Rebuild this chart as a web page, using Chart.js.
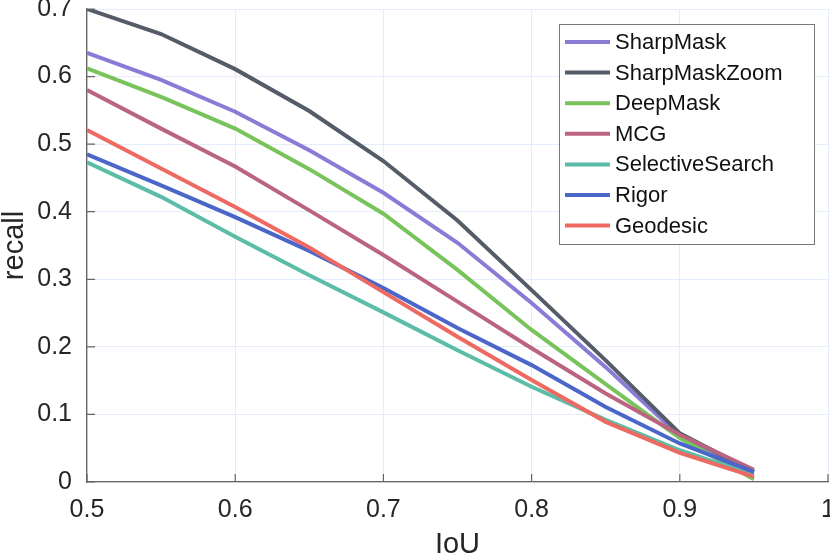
<!DOCTYPE html>
<html>
<head>
<meta charset="utf-8">
<script src="https://cdn.jsdelivr.net/npm/chart.js@4.4.1/dist/chart.umd.min.js"></script>
<style>
  html, body { margin: 0; padding: 0; background: #fff; }
  #wrap { width: 830px; height: 557px; position: relative; }
</style>
</head>
<body>
<div id="wrap"><canvas id="recallChart"></canvas></div>
<script>
// IoU thresholds and recall per method
const iou = [0.5, 0.55, 0.6, 0.65, 0.7, 0.75, 0.8, 0.85, 0.9, 0.95];
const sharpMask       = [0.635, 0.595, 0.548, 0.491, 0.428, 0.354, 0.265, 0.170, 0.068, 0.015];
const sharpMaskZoom   = [0.700, 0.663, 0.611, 0.549, 0.475, 0.387, 0.284, 0.180, 0.072, 0.015];
const deepMask        = [0.612, 0.570, 0.523, 0.463, 0.397, 0.314, 0.225, 0.145, 0.065, 0.004];
const mcg             = [0.580, 0.523, 0.467, 0.402, 0.336, 0.267, 0.198, 0.131, 0.070, 0.018];
const selectiveSearch = [0.473, 0.422, 0.363, 0.306, 0.251, 0.195, 0.141, 0.092, 0.047, 0.010];
const rigor           = [0.485, 0.439, 0.392, 0.342, 0.287, 0.228, 0.173, 0.111, 0.057, 0.015];
const geodesic        = [0.521, 0.464, 0.407, 0.347, 0.281, 0.215, 0.151, 0.089, 0.043, 0.008];

const methods = ['SharpMask', 'SharpMaskZoom', 'DeepMask', 'MCG', 'SelectiveSearch', 'Rigor', 'Geodesic'];
const series = [sharpMask, sharpMaskZoom, deepMask, mcg, selectiveSearch, rigor, geodesic];
const colors = ['#8a7cd6', '#545c68', '#78c35c', '#bb6480', '#5bbca7', '#4a66c8', '#ee6962'];

const FONT = "'Liberation Sans', Arial, Helvetica, sans-serif";

// MATLAB-style tick marks pointing into the plot
const inwardTicks = {
    id: 'inwardTicks',
    afterDraw(chart) {
        const {ctx, chartArea, scales} = chart;
        ctx.save();
        ctx.strokeStyle = '#666';
        ctx.lineWidth = 1.2;
        ctx.beginPath();
        scales.x.ticks.forEach(t => {
            const px = scales.x.getPixelForValue(t.value);
            ctx.moveTo(px, chartArea.bottom);
            ctx.lineTo(px, chartArea.bottom - 8);
        });
        scales.y.ticks.forEach(t => {
            const py = scales.y.getPixelForValue(t.value);
            ctx.moveTo(chartArea.left, py);
            ctx.lineTo(chartArea.left + 8, py);
        });
        ctx.stroke();
        ctx.restore();
    }
};

// legend box inside the plot, top right
const boxLegend = {
    id: 'boxLegend',
    afterDraw(chart) {
        const {ctx, chartArea} = chart;
        const x0 = chartArea.right - 269, y0 = chartArea.top + 15;
        const w = 255, h = 220, rowH = 30.6;
        ctx.save();
        ctx.fillStyle = '#fff';
        ctx.fillRect(x0, y0, w, h);
        ctx.strokeStyle = '#777';
        ctx.lineWidth = 1;
        ctx.strokeRect(x0 + 0.5, y0 + 0.5, w, h);
        ctx.font = '22px ' + FONT;
        ctx.textBaseline = 'middle';
        ctx.fillStyle = '#111';
        chart.data.datasets.forEach((ds, i) => {
            const cy = y0 + 18 + i * rowH;
            ctx.strokeStyle = ds.borderColor;
            ctx.lineWidth = 4;
            ctx.beginPath();
            ctx.moveTo(x0 + 6, cy);
            ctx.lineTo(x0 + 51, cy);
            ctx.stroke();
            ctx.fillText(ds.label, x0 + 56, cy + 1);
        });
        ctx.restore();
    }
};

const fmt = v => String(Number(v.toFixed(2)));

const ctx = document.getElementById('recallChart').getContext('2d');
const recallChart = new Chart(ctx, {
    type: 'line',
    data: {
        datasets: methods.map((name, i) => ({
            label: name,
            data: iou.map((v, j) => ({x: v, y: series[i][j]})),
            borderColor: colors[i],
            backgroundColor: colors[i],
            borderWidth: 4,
            pointRadius: 0,
            tension: 0,
            fill: false,
            order: methods.length - i
        }))
    },
    options: {
        responsive: true,
        maintainAspectRatio: false,
        animation: false,
        layout: {
            padding: {top: 9, right: 2, left: 0, bottom: 0}
        },
        plugins: {
            legend: {display: false},
            tooltip: {enabled: false}
        },
        scales: {
            x: {
                type: 'linear',
                min: 0.5,
                max: 1,
                ticks: {
                    stepSize: 0.1,
                    color: '#262626',
                    padding: 13,
                    maxRotation: 0,
                    font: {size: 25, family: FONT},
                    callback: fmt
                },
                grid: {color: '#e3edfb', lineWidth: 1, drawTicks: false},
                border: {color: '#666', width: 1.3},
                title: {
                    display: true,
                    text: 'IoU',
                    color: '#262626',
                    padding: 0,
                    font: {size: 29, family: FONT, lineHeight: 0.8}
                },
                afterFit(s) {
                    s.height = 75;
                    s.paddingLeft = 0;
                    s.paddingRight = 0;
                }
            },
            y: {
                min: 0,
                max: 0.7,
                ticks: {
                    stepSize: 0.1,
                    color: '#262626',
                    padding: 15,
                    font: {size: 25, family: FONT},
                    callback: fmt
                },
                grid: {color: '#e3edfb', lineWidth: 1, drawTicks: false},
                border: {color: '#666', width: 1.3},
                title: {
                    display: true,
                    text: 'recall',
                    color: '#262626',
                    padding: 0,
                    font: {size: 29, family: FONT, lineHeight: 1}
                },
                afterFit(s) {
                    s.width = 87;
                    s.paddingTop = 0;
                    s.paddingBottom = 0;
                }
            }
        }
    },
    plugins: [inwardTicks, boxLegend]
});
</script>
</body>
</html>
